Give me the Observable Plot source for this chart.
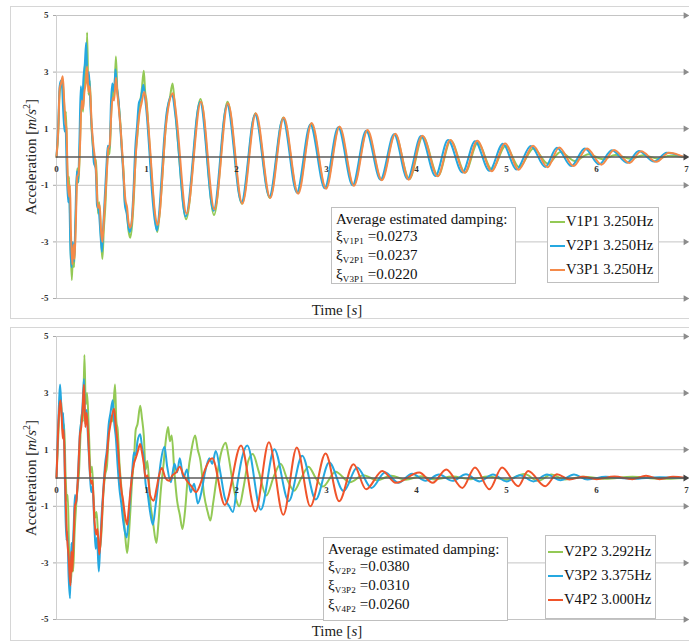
<!DOCTYPE html>
<html><head><meta charset="utf-8">
<script src="https://cdn.jsdelivr.net/npm/d3@7"></script>
<script src="https://cdn.jsdelivr.net/npm/@observablehq/plot@0.6"></script>
<style>
body{margin:0;background:#fff;font-family:"Liberation Serif","Times New Roman",serif;}
#root{position:relative;width:689px;height:643px;overflow:hidden;background:#fff;}
.chart{position:absolute;left:0;}
.chart svg{background:transparent;}
.frame{position:absolute;left:10px;width:700px;border:1px solid #d6d6d6;pointer-events:none;}
.box{position:absolute;background:#fff;border:1px solid #bfbfbf;color:#111;box-sizing:border-box;font-family:"Liberation Serif","Times New Roman",serif;}
.ann{font-size:15px;line-height:17px;padding-left:4px;white-space:nowrap;}
.ann sub{font-size:9px;vertical-align:baseline;position:relative;top:3px;letter-spacing:0.2px;}
.leg{font-size:14.7px;line-height:24px;padding-left:2px;white-space:nowrap;}
.leg .sw{display:inline-block;width:15px;height:2px;vertical-align:middle;margin-right:1px;position:relative;top:-1px;}
</style>
</head><body>
<div id="root"></div>
<script>
// ---------- axis / tick data ----------
const xTicks = [0,1,2,3,4,5,6,7];
const yTicks = [5,3,1,-1,-3,-5];
const gridValues = [5,3,1,-1,-3,-5];

// ---------- panel 1 (P1) ----------
const p1Names = ["V1P1 3.250Hz","V2P1 3.250Hz","V3P1 3.250Hz"];
const p1Colors = ["#93c955","#25a8e0","#f48a4a"];
const p1DampKeys = ["V1P1","V2P1","V3P1"];
const p1DampVals = ["0.0273","0.0237","0.0220"];

const v1p1 = [[0,0],[0.02,0.9],[0.035,2.3],[0.05,2.5],[0.065,2.75],[0.08,2.2],[0.095,1.3],[0.105,1.6],[0.12,-0.4],[0.13,-1.1],[0.14,-0.7],[0.155,-2.9],[0.17,-4.35],[0.185,-3.2],[0.195,-3.9],[0.215,-2.0],[0.23,-0.4],[0.245,-0.9],[0.26,0.4],[0.28,2.2],[0.295,1.6],[0.315,3.3],[0.33,2.6],[0.34,4.4],[0.355,2.2],[0.37,2.7],[0.39,1.0],[0.41,0.2],[0.425,-0.3],[0.44,-0.1],[0.46,-2.0],[0.475,-1.6],[0.495,-2.9],[0.51,-3.6],[0.525,-2.6],[0.545,-1.6],[0.56,-0.4],[0.575,0.2],[0.59,0.1],[0.61,1.7],[0.625,2.4],[0.64,2.1],[0.66,3.55],[0.675,2.4],[0.69,1.9],[0.71,1.2],[0.73,0.1],[0.745,-0.5],[0.76,-1.6],[0.78,-1.9],[0.8,-2.6],[0.82,-2.85],[0.84,-2.4],[0.86,-1.4],[0.88,0.1],[0.9,0.8],[0.92,1.7],[0.945,2.3],[0.97,3.05],[0.985,2.3],[1.0,2.0],[1.03,0.6],[1.06,-0.8],[1.09,-2.0],[1.12,-2.65],[1.14,-2.2],[1.17,-1.0],[1.2,0.5],[1.23,1.6],[1.26,2.1],[1.29,2.6],[1.31,2.0],[1.35,0.5],[1.44,-2.2],[1.6,2.05],[1.75,-2.05],[1.9,1.95],[2.06,-1.65],[2.21,1.55],[2.37,-1.45],[2.52,1.4],[2.68,-1.27],[2.83,1.18],[2.99,-1.1],[3.14,1.05],[3.3,-1.0],[3.45,0.92],[3.61,-0.8],[3.76,0.8],[3.92,-0.78],[4.07,0.72],[4.24,-0.66],[4.38,0.58],[4.54,-0.55],[4.68,0.5],[4.84,-0.45],[4.99,0.4],[5.14,-0.36],[5.3,0.3],[5.46,-0.24],[5.6,0.18],[5.76,-0.14],[5.91,0.1],[6.07,-0.08],[6.21,0.07],[6.38,-0.06],[6.52,0.06],[6.68,-0.05],[6.82,0.04],[6.97,0]];
const v2p1 = [[0,0],[0.02,1.2],[0.035,2.5],[0.05,2.7],[0.06,2.6],[0.075,1.6],[0.09,0.9],[0.1,1.1],[0.115,-0.6],[0.13,-1.6],[0.14,-1.2],[0.155,-3.3],[0.168,-3.9],[0.18,-3.0],[0.195,-3.7],[0.21,-2.2],[0.225,-0.5],[0.24,-0.9],[0.255,0.6],[0.27,2.5],[0.285,1.9],[0.3,2.8],[0.315,3.3],[0.33,4.05],[0.345,2.6],[0.36,3.0],[0.38,1.6],[0.4,0.6],[0.415,-0.2],[0.435,-0.4],[0.45,-1.7],[0.47,-1.9],[0.49,-2.8],[0.505,-3.35],[0.52,-2.4],[0.54,-1.2],[0.555,-0.3],[0.57,0.4],[0.59,0.3],[0.605,1.9],[0.62,2.6],[0.64,2.3],[0.655,3.1],[0.67,2.5],[0.69,2.0],[0.71,1.0],[0.73,0.0],[0.745,-0.8],[0.76,-1.7],[0.78,-2.0],[0.8,-2.5],[0.815,-2.65],[0.835,-2.3],[0.855,-1.2],[0.875,0.3],[0.895,1.1],[0.915,1.9],[0.94,2.1],[0.965,2.55],[0.98,2.2],[1.0,1.6],[1.03,0.3],[1.06,-1.2],[1.09,-2.2],[1.115,-2.6],[1.14,-2.0],[1.17,-0.6],[1.2,0.8],[1.23,1.7],[1.285,2.2],[1.32,1.5],[1.435,-2.1],[1.595,1.95],[1.745,-1.9],[1.895,1.85],[2.055,-1.6],[2.205,1.5],[2.365,-1.4],[2.515,1.35],[2.67,-1.25],[2.82,1.15],[2.98,-1.1],[3.13,1.05],[3.29,-1.0],[3.44,0.93],[3.6,-0.8],[3.75,0.8],[3.9,-0.78],[4.05,0.74],[4.21,-0.67],[4.35,0.6],[4.51,-0.55],[4.65,0.56],[4.81,-0.49],[4.96,0.47],[5.11,-0.44],[5.27,0.39],[5.43,-0.35],[5.56,0.33],[5.72,-0.32],[5.87,0.3],[6.03,-0.26],[6.17,0.24],[6.34,-0.2],[6.47,0.21],[6.64,-0.16],[6.78,0.15],[6.96,0]];
const v3p1 = [[0,0],[0.02,1.0],[0.035,2.4],[0.05,2.6],[0.07,2.85],[0.085,2.0],[0.1,1.2],[0.11,1.0],[0.125,-0.8],[0.14,-1.4],[0.15,-1.0],[0.16,-2.6],[0.175,-3.8],[0.19,-3.1],[0.2,-3.6],[0.215,-2.3],[0.23,-0.7],[0.245,-0.6],[0.26,0.3],[0.28,2.0],[0.295,1.7],[0.31,2.3],[0.325,2.6],[0.34,3.2],[0.355,2.3],[0.37,2.5],[0.39,1.2],[0.41,0.4],[0.425,0.0],[0.44,-0.5],[0.46,-1.8],[0.48,-1.7],[0.495,-2.6],[0.51,-3.0],[0.525,-2.3],[0.545,-1.3],[0.56,-0.5],[0.575,0.3],[0.59,0.4],[0.61,1.6],[0.625,2.1],[0.64,2.0],[0.66,2.8],[0.675,2.3],[0.69,1.8],[0.71,1.1],[0.73,0.2],[0.745,-0.6],[0.765,-1.5],[0.785,-1.8],[0.8,-2.3],[0.82,-2.5],[0.84,-2.2],[0.86,-1.2],[0.88,0.0],[0.9,0.9],[0.92,1.5],[0.945,1.9],[0.975,2.3],[0.99,2.1],[1.01,1.5],[1.04,0.3],[1.07,-1.1],[1.095,-2.0],[1.125,-2.4],[1.15,-1.9],[1.18,-0.5],[1.21,0.9],[1.24,1.7],[1.295,2.25],[1.33,1.5],[1.445,-2.0],[1.605,1.95],[1.755,-1.85],[1.905,1.9],[2.065,-1.65],[2.215,1.55],[2.375,-1.45],[2.525,1.4],[2.685,-1.3],[2.835,1.2],[2.995,-1.12],[3.145,1.08],[3.305,-1.02],[3.455,0.95],[3.615,-0.82],[3.765,0.82],[3.915,-0.8],[4.065,0.75],[4.235,-0.68],[4.375,0.6],[4.535,-0.56],[4.675,0.57],[4.835,-0.5],[4.985,0.48],[5.135,-0.45],[5.295,0.4],[5.455,-0.36],[5.585,0.34],[5.745,-0.32],[5.895,0.3],[6.055,-0.27],[6.195,0.25],[6.365,-0.21],[6.495,0.2],[6.665,-0.17],[6.805,0.15],[6.97,0]];

// ---------- panel 2 (P2) ----------
const p2Names = ["V2P2 3.292Hz","V3P2 3.375Hz","V4P2 3.000Hz"];
const p2Colors = ["#93c955","#25a8e0","#f0542a"];
const p2DampKeys = ["V2P2","V3P2","V4P2"];
const p2DampVals = ["0.0380","0.0310","0.0260"];

const v2p2 = [[0,0],[0.02,1.5],[0.035,2.6],[0.045,2.9],[0.06,2.2],[0.07,1.6],[0.085,1.9],[0.1,0.2],[0.115,-0.8],[0.125,-0.6],[0.14,-2.6],[0.16,-3.7],[0.175,-2.8],[0.185,-3.3],[0.2,-2.0],[0.22,-0.9],[0.235,-0.3],[0.25,0.2],[0.265,1.4],[0.28,2.3],[0.295,2.0],[0.31,4.35],[0.325,2.6],[0.34,3.0],[0.36,1.6],[0.38,0.2],[0.395,0.4],[0.41,-0.6],[0.43,-1.4],[0.445,-1.2],[0.465,-2.2],[0.48,-2.6],[0.5,-1.9],[0.52,-0.6],[0.54,0.1],[0.56,0.4],[0.58,1.5],[0.6,2.2],[0.62,2.0],[0.65,3.3],[0.665,2.0],[0.68,1.7],[0.7,0.5],[0.72,-0.3],[0.74,-1.0],[0.76,-1.9],[0.785,-2.65],[0.8,-2.2],[0.82,-1.2],[0.84,-0.1],[0.86,0.6],[0.88,1.7],[0.9,1.9],[0.93,2.55],[0.95,2.1],[0.97,1.5],[0.99,0.3],[1.01,0.6],[1.04,-0.8],[1.07,-1.5],[1.11,-2.3],[1.13,-1.7],[1.16,-0.4],[1.19,0.5],[1.21,1.2],[1.24,1.8],[1.26,1.3],[1.28,1.5],[1.31,0.2],[1.34,-0.8],[1.37,-1.3],[1.4,-1.8],[1.43,-1.1],[1.46,0.1],[1.5,1.0],[1.54,1.5],[1.57,1.0],[1.6,0.6],[1.64,-0.6],[1.68,-1.2],[1.71,-1.5],[1.74,-0.9],[1.78,0.0],[1.83,0.9],[1.88,1.25],[1.91,0.8],[1.95,0.0],[2.0,-0.8],[2.03,-1.0],[2.08,-0.3],[2.13,0.6],[2.18,0.85],[2.25,0.2],[2.33,-0.62],[2.42,0.1],[2.49,0.5],[2.57,-0.1],[2.64,-0.45],[2.72,0.0],[2.8,0.4],[2.88,0.0],[2.96,-0.3],[3.1,0.22],[3.26,-0.15],[3.41,0.1],[3.56,-0.08],[3.72,0.08],[3.88,-0.06],[4.05,0.06],[4.2,-0.05],[4.4,0.05],[4.6,-0.04],[4.8,0.05],[5.0,-0.06],[5.2,0.14],[5.35,-0.1],[5.5,0.12],[5.65,-0.05],[5.85,0.04],[6.1,-0.03],[6.4,0.04],[6.7,-0.03],[7.0,0]];
const v3p2 = [[0,0],[0.015,1.6],[0.03,2.8],[0.04,3.3],[0.055,2.4],[0.065,2.0],[0.075,2.3],[0.09,0.5],[0.1,-1.3],[0.11,-2.2],[0.12,-1.9],[0.135,-3.5],[0.15,-4.25],[0.165,-2.3],[0.175,-2.6],[0.19,-1.8],[0.205,-0.6],[0.22,-0.9],[0.24,0.2],[0.26,1.6],[0.275,2.0],[0.29,2.6],[0.305,3.5],[0.32,1.9],[0.335,2.4],[0.35,1.4],[0.37,0.2],[0.385,-0.5],[0.4,-0.3],[0.42,-1.6],[0.435,-2.5],[0.45,-2.1],[0.47,-3.3],[0.485,-2.4],[0.5,-1.4],[0.52,-0.4],[0.54,0.5],[0.56,1.0],[0.58,1.9],[0.6,2.3],[0.625,2.75],[0.64,2.0],[0.66,1.4],[0.68,0.4],[0.7,-0.4],[0.72,-0.9],[0.74,-1.5],[0.76,-1.9],[0.78,-2.1],[0.8,-1.5],[0.82,-0.6],[0.84,0.2],[0.86,0.9],[0.88,0.8],[0.9,1.3],[0.93,1.55],[0.95,1.1],[0.97,0.7],[0.99,-0.2],[1.01,-0.5],[1.04,-1.2],[1.07,-1.65],[1.1,-1.0],[1.13,-0.2],[1.16,0.6],[1.2,1.1],[1.23,0.4],[1.27,-0.15],[1.31,0.5],[1.34,0.2],[1.37,0.7],[1.41,0.0],[1.45,0.3],[1.49,-0.5],[1.53,-0.2],[1.57,-0.9],[1.61,-0.5],[1.65,0.2],[1.7,0.7],[1.73,0.5],[1.77,0.95],[1.82,0.2],[1.87,-0.7],[1.92,-1.0],[1.96,-1.2],[2.01,-0.2],[2.06,0.7],[2.12,1.15],[2.27,-1.12],[2.42,1.02],[2.58,-0.82],[2.73,0.79],[2.88,-0.76],[3.03,0.55],[3.19,-0.46],[3.34,0.37],[3.5,-0.35],[3.65,0.19],[3.8,-0.17],[3.95,0.15],[4.1,-0.1],[4.25,0.12],[4.4,-0.1],[4.55,0.13],[4.7,-0.12],[4.85,0.12],[5.0,-0.12],[5.15,0.1],[5.3,-0.12],[5.45,0.12],[5.6,-0.08],[5.75,0.12],[5.9,-0.05],[6.1,0.04],[6.4,-0.03],[6.7,0.03],[7.0,0]];
const v4p2 = [[0,0],[0.015,1.4],[0.03,2.4],[0.045,2.75],[0.06,2.0],[0.07,1.4],[0.08,1.7],[0.095,0.0],[0.11,-1.6],[0.12,-2.2],[0.135,-2.8],[0.155,-3.8],[0.165,-2.6],[0.175,-3.3],[0.19,-2.2],[0.205,-1.0],[0.22,-0.8],[0.24,0.1],[0.26,1.5],[0.275,1.8],[0.29,2.4],[0.305,3.3],[0.32,1.8],[0.335,2.3],[0.355,1.3],[0.37,0.3],[0.385,-0.2],[0.4,-0.1],[0.42,-1.4],[0.44,-2.0],[0.455,-1.8],[0.475,-2.7],[0.49,-2.2],[0.505,-1.4],[0.52,-0.5],[0.54,0.3],[0.56,0.8],[0.58,1.5],[0.6,1.9],[0.64,2.45],[0.66,1.8],[0.68,1.2],[0.7,0.3],[0.72,-0.4],[0.74,-0.8],[0.76,-1.3],[0.785,-1.65],[0.8,-1.2],[0.82,-0.5],[0.84,0.1],[0.86,0.5],[0.88,0.7],[0.9,0.9],[0.93,1.2],[0.95,0.9],[0.97,0.5],[0.99,0.0],[1.01,0.1],[1.04,-0.6],[1.08,-0.8],[1.11,-0.4],[1.14,0.1],[1.17,0.35],[1.21,0.0],[1.25,-0.1],[1.29,0.1],[1.33,0.2],[1.37,0.4],[1.41,0.1],[1.45,-0.1],[1.5,-0.3],[1.55,-0.5],[1.6,-0.2],[1.65,0.3],[1.73,0.7],[1.87,-0.95],[2.05,1.15],[2.21,-1.18],[2.36,1.26],[2.52,-1.3],[2.67,1.08],[2.82,-1.0],[2.99,0.87],[3.14,-0.82],[3.3,0.49],[3.44,-0.4],[3.62,0.25],[3.77,-0.17],[4.03,0.19],[4.18,-0.17],[4.33,0.3],[4.51,-0.35],[4.65,0.37],[4.81,-0.4],[4.95,0.37],[5.13,-0.29],[5.24,0.25],[5.43,-0.29],[5.56,0.13],[5.7,-0.05],[5.85,0.04],[6.0,-0.04],[6.2,0.05],[6.4,-0.04],[6.55,0.08],[6.7,-0.04],[6.85,0.04],[7.0,0]];

const p1Series = [v1p1, v2p1, v3p1];
const p2Series = [v2p2, v3p2, v4p2];

const FONT = '"Liberation Serif", "Times New Roman", serif';

function makePanel(seriesList, names, colors) {
  const rows = seriesList.flatMap((pts, i) => pts.map(([t, v]) => ({t, v, name: names[i]})));
  const chart = Plot.plot({
    width: 689, height: 318,
    marginTop: 15, marginBottom: 20, marginLeft: 56, marginRight: 3,
    x: {domain: [0, 7], axis: null},
    y: {domain: [-5, 5], axis: null},
    color: {domain: names, range: colors},
    style: {background: "transparent", fontFamily: FONT, overflow: "visible"},
    marks: [
      Plot.ruleY(gridValues, {x1: 0, x2: 7, stroke: "#c4c4c4", strokeWidth: 1}),
      Plot.dot(gridValues, {x: 7, y: d => d, symbol: "triangle", rotate: 90, r: 2.4, fill: "#8c8c8c", stroke: null, dx: -1}),
      Plot.ruleX([0], {y1: -5, y2: 5, stroke: "#cfcfcf"}),
      Plot.axisY({ticks: yTicks, tickSize: 3, tickPadding: 5, fontSize: 9, fontWeight: "bold", fontFamily: FONT, stroke: "#aaa", fill: "#333", label: null, tickFormat: d => String(d)}),
      Plot.line(rows, {x: "t", y: "v", z: "name", stroke: "name", curve: "monotone-x", strokeWidth: 2, strokeLinejoin: "round"}),
      Plot.ruleY([0], {x1: 0, x2: 7, stroke: "#5a5a5a", strokeWidth: 1.6}),
      Plot.dot([0], {x: 7, y: 0, symbol: "triangle", rotate: 90, r: 2.6, fill: "#444", stroke: null, dx: -1}),
      Plot.text(xTicks, {x: d => d, y: 0, dy: 12, text: d => String(d), fontSize: 9, fontWeight: "bold", fontFamily: FONT, fill: "#333"})
    ]
  });
  const svg = d3.select(chart);
  const yl = svg.append("text")
    .attr("transform", "translate(36,157) rotate(-90)")
    .attr("text-anchor", "middle")
    .style("font-family", FONT).attr("font-size", 15).attr("fill", "#222");
  yl.append("tspan").text("Acceleration [");
  yl.append("tspan").attr("font-style", "italic").text("m/s");
  yl.append("tspan").attr("font-size", 10).attr("dy", -6).text("2");
  yl.append("tspan").attr("dy", 6).text("]");
  const xl = svg.append("text")
    .attr("x", 337).attr("y", 315)
    .attr("text-anchor", "middle")
    .style("font-family", FONT).attr("font-size", 15).attr("fill", "#222");
  xl.append("tspan").text("Time [");
  xl.append("tspan").attr("font-style", "italic").text("s");
  xl.append("tspan").text("]");
  return chart;
}

function addBoxes(root, keys, vals, names, colors, ann, leg) {
  const a = document.createElement("div");
  a.className = "box ann";
  Object.assign(a.style, {left: ann.left + "px", top: ann.top + "px", width: ann.w + "px", height: ann.h + "px", paddingTop: ann.pt + "px"});
  let html = "<div>Average estimated damping:</div>";
  keys.forEach((k, i) => { html += `<div>\u03BE<sub>${k}</sub> =${vals[i]}</div>`; });
  a.innerHTML = html;
  root.appendChild(a);
  const l = document.createElement("div");
  l.className = "box leg";
  Object.assign(l.style, {left: leg.left + "px", top: leg.top + "px", width: leg.w + "px", height: leg.h + "px", paddingTop: leg.pt + "px"});
  l.innerHTML = names.map((n, i) => `<div><span class="sw" style="background:${colors[i]}"></span>${n}</div>`).join("");
  root.appendChild(l);
}

const root = document.getElementById("root");

const c1 = makePanel(p1Series, p1Names, p1Colors);
const w1 = document.createElement("div"); w1.className = "chart"; w1.style.top = "0px"; w1.appendChild(c1); root.appendChild(w1);
const c2 = makePanel(p2Series, p2Names, p2Colors);
const w2 = document.createElement("div"); w2.className = "chart"; w2.style.top = "321px"; w2.appendChild(c2); root.appendChild(w2);

const f1 = document.createElement("div"); f1.className = "frame"; f1.style.top = "6px"; f1.style.height = "311px"; root.appendChild(f1);
const f2 = document.createElement("div"); f2.className = "frame"; f2.style.top = "327px"; f2.style.height = "312px"; root.appendChild(f2);

addBoxes(root, p1DampKeys, p1DampVals, p1Names, p1Colors,
  {left: 331, top: 207, w: 185, h: 77, pt: 3},
  {left: 547, top: 207, w: 112, h: 76, pt: 1});
addBoxes(root, p2DampKeys, p2DampVals, p2Names, p2Colors,
  {left: 323, top: 537, w: 185, h: 84, pt: 3},
  {left: 545, top: 535, w: 111, h: 84, pt: 3});
</script>
</body></html>
